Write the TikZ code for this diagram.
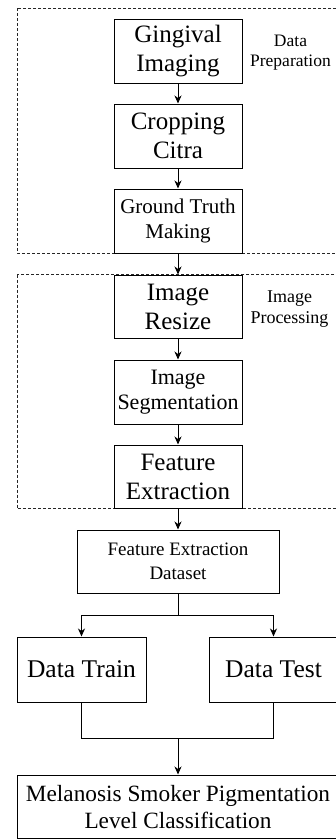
\documentclass[tikz,border=0pt]{standalone}
\usepackage{fontspec}
\setmainfont{Liberation Serif}
\usetikzlibrary{arrows.meta}

\tikzset{
  box/.style={draw=black, line width=1pt, inner sep=0pt, align=center, fill=white},
  grp/.style={draw=black!85, line width=0.9pt, dash pattern=on 3pt off 2pt},
  lbl/.style={inner sep=0pt, align=center, font=\fontsize{17.5}{20}\selectfont},
  link/.style={line width=1pt},
  arr/.style={link, -{Stealth[length=8pt,width=7pt,inset=2.5pt]}},
  big/.style={font=\fontsize{25}{29}\selectfont},
}

\begin{document}
\begin{tikzpicture}[x=1pt, y=-1pt]
\clip (0,0) rectangle (336,839);
\fill[white] (0,0) rectangle (336,839);

% group frames
\draw[grp] (17,8) rectangle (339,253);
\draw[grp] (17,274.5) rectangle (339,508.5);

% data preparation
\node[box, big, minimum width=128pt, minimum height=64pt] (g1) at (178,51) {Gingival\\Imaging};
\node[box, big, minimum width=128pt, minimum height=64pt] (g2) at (178,136) {Cropping\\Citra};
\node[box, font=\fontsize{21}{25}\selectfont, minimum width=128pt, minimum height=64pt] (g3) at (178,221) {Ground Truth\\Making};
\node[lbl] (t1) at (290.5,53) {Data\\Preparation};

% image processing
\node[box, big, minimum width=128pt, minimum height=63pt] (p1) at (178,306.5) {Image\\Resize};
\node[box, font=\fontsize{22}{25}\selectfont, minimum width=128pt, minimum height=64pt] (p2) at (178,392) {Image\\Segmentation};
\node[box, big, minimum width=128pt, minimum height=63pt] (p3) at (178,476.5) {Feature\\Extraction};
\node[lbl, font=\fontsize{18}{20.5}\selectfont] (t2) at (289.5,309) {Image\\Processing};

% dataset and split
\node[box, font=\fontsize{19}{24}\selectfont, minimum width=202pt, minimum height=63pt] (ds) at (178,561.5) {Feature Extraction\\Dataset};
\node[box, font=\fontsize{25.5}{29}\selectfont, minimum width=129pt, minimum height=65pt] (tr) at (81.5,669.5) {Data Train};
\node[box, font=\fontsize{25.5}{29}\selectfont, minimum width=129pt, minimum height=65pt] (te) at (273.5,669.5) {Data Test};
\node[box, font=\fontsize{23.3}{27}\selectfont, minimum width=322pt, minimum height=63.5pt] (cl) at (178,806.75) {Melanosis Smoker Pigmentation\\Level Classification};

\coordinate (j1) at (178,615);
\coordinate (j2) at (178,738);

% connectors
\draw[arr] (g1) -- (g2);
\draw[arr] (g2) -- (g3);
\draw[arr] (g3) -- (p1);
\draw[arr] (p1) -- (p2);
\draw[arr] (p2) -- (p3);
\draw[arr] (p3) -- (ds);
\draw[link] (ds.south) -- (j1);
\draw[arr] (j1) -| (tr.north);
\draw[arr] (j1) -| (te.north);
\draw[link] (tr.south) |- (j2);
\draw[link] (te.south) |- (j2);
\draw[arr] (j2) -- (cl.north);
\end{tikzpicture}
\end{document}
